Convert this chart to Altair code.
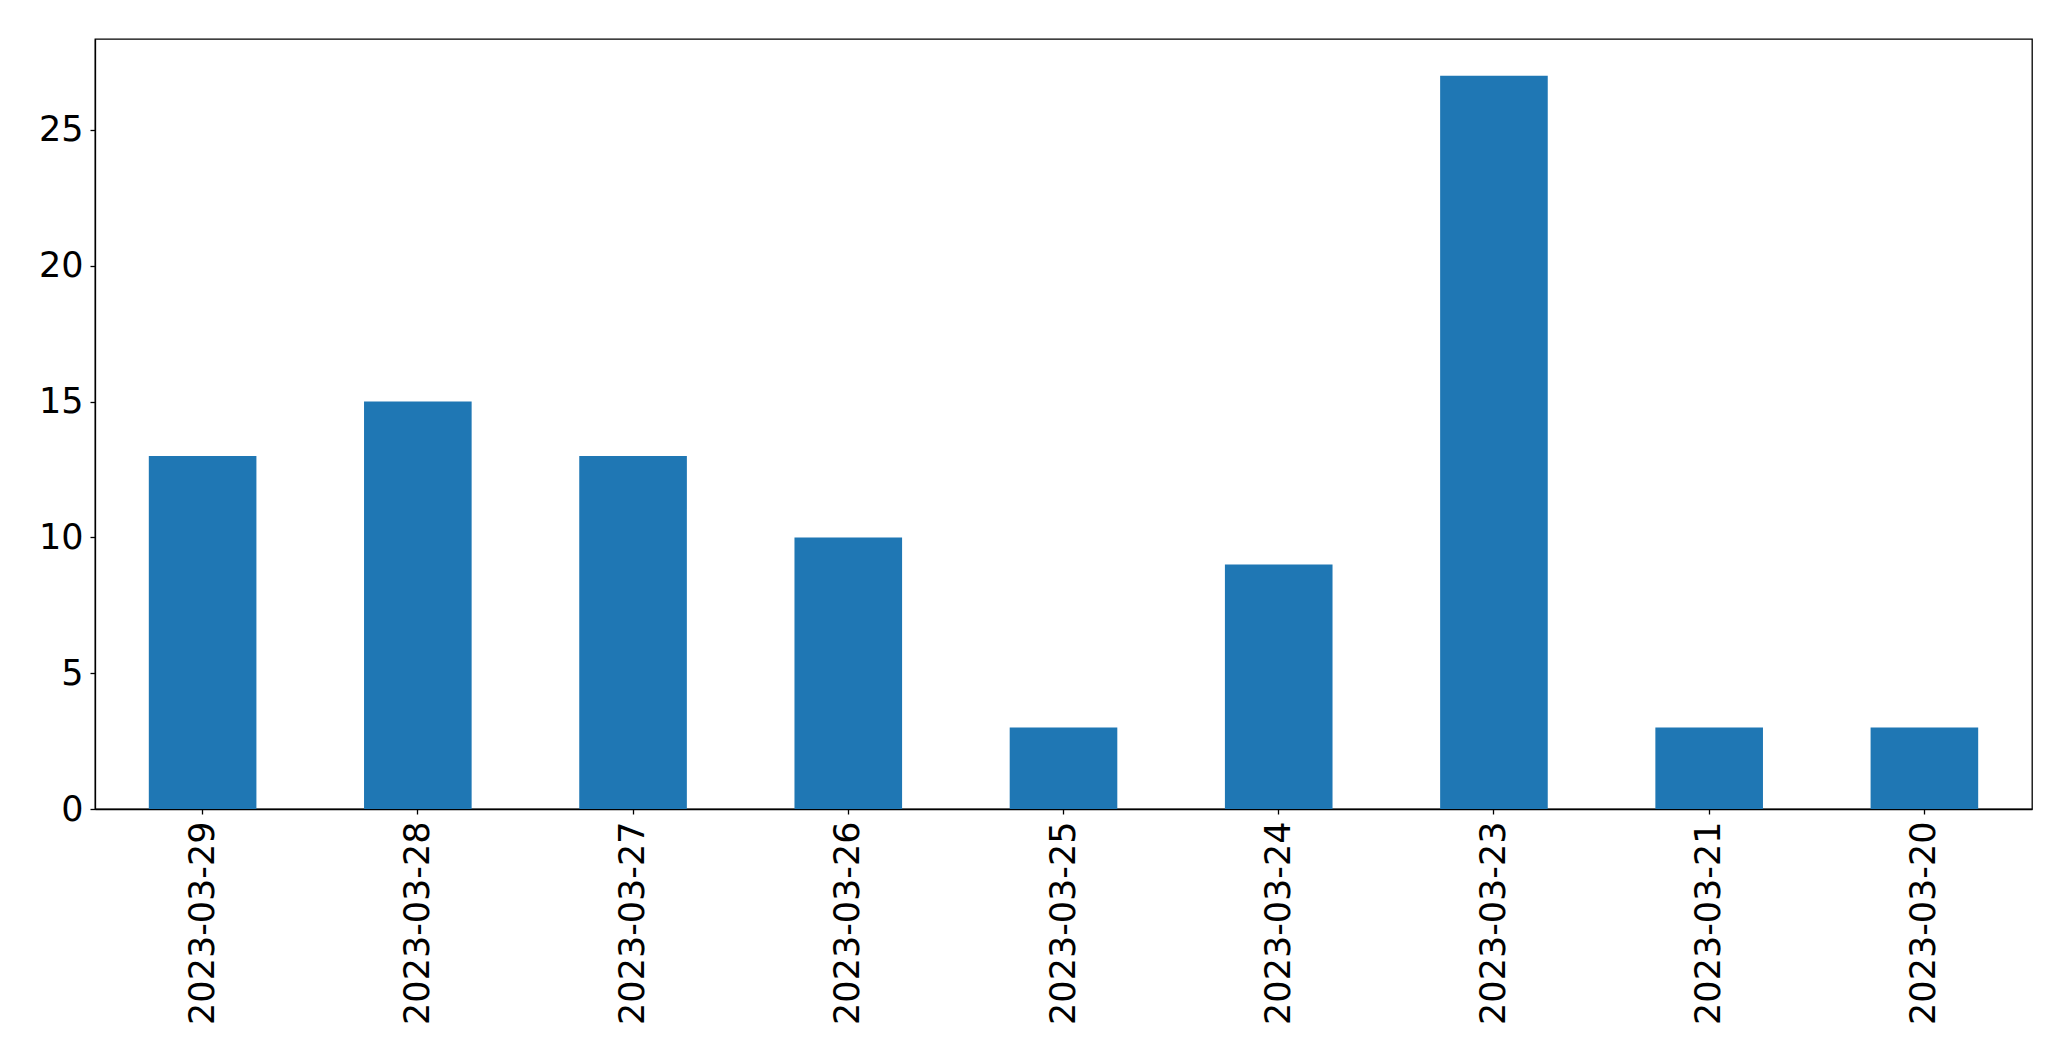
import altair as alt
import pandas as pd

dates = ["2023-03-29", "2023-03-28", "2023-03-27", "2023-03-26", "2023-03-25",
         "2023-03-24", "2023-03-23", "2023-03-21", "2023-03-20"]
counts = [13, 15, 13, 10, 3, 9, 27, 3, 3]
y_ticks = [0, 5, 10, 15, 20, 25]

df = pd.DataFrame({"date": dates, "count": counts})

FONT = "DejaVu Sans"

chart = alt.Chart(df).mark_bar(color="#1f77b4").encode(
    x=alt.X("date:N", sort=dates, title=None,
            scale=alt.Scale(paddingInner=0.5, paddingOuter=0.25),
            axis=alt.Axis(labelAngle=270, labelAlign="right", labelBaseline="middle",
                          labelFont=FONT, labelFontSize=35, labelColor="black",
                          labelLimit=1000,
                          tickSize=5, tickColor="black", tickWidth=1.3,
                          domainColor="black", domainWidth=1.3,
                          labelPadding=7, grid=False)),
    y=alt.Y("count:Q", title=None,
            scale=alt.Scale(domain=[0, 28.35], nice=False, zero=True),
            axis=alt.Axis(values=y_ticks, labelFont=FONT, labelFontSize=35, labelColor="black",
                          tickSize=5, tickColor="black", tickWidth=1.3,
                          domainColor="black", domainWidth=1.3,
                          labelPadding=7, grid=False)),
).properties(
    width=1937,
    height=770,
    autosize=alt.AutoSizeParams(type="none"),
    padding={"left": 87, "top": 31, "right": 30, "bottom": 240},
).configure(
    background="white",
).configure_view(
    stroke="black",
    strokeWidth=1.3,
)

chart.save("out.html", embed_options={"renderer": "svg", "actions": False})
